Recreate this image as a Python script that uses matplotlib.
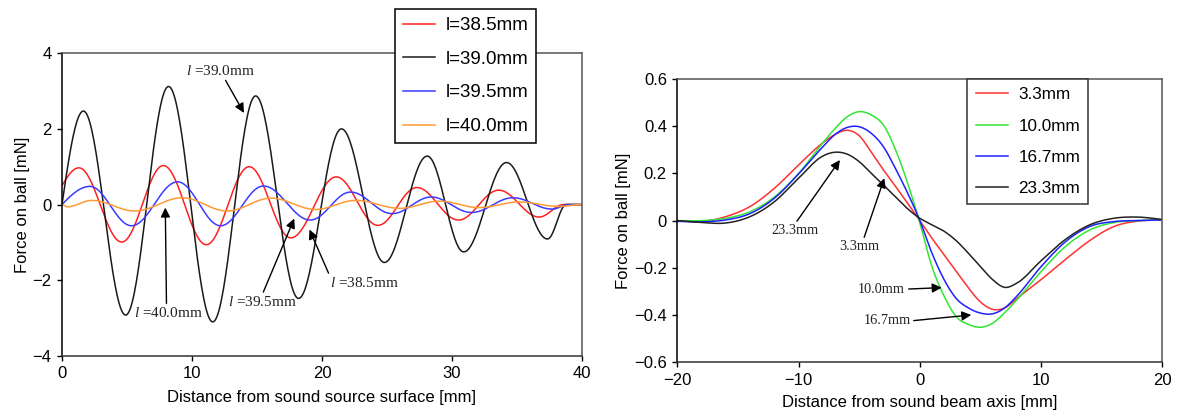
import numpy as np
import matplotlib
matplotlib.use("Agg")
import matplotlib.pyplot as plt

plt.rcParams['font.family'] = ['Liberation Sans', 'DejaVu Sans']
plt.rcParams['mathtext.fontset'] = 'custom'
plt.rcParams['mathtext.rm'] = 'Liberation Serif'
plt.rcParams['mathtext.it'] = 'Liberation Serif:italic'

# ---- left panel: peaks / troughs ----
lengths = ['l=38.5mm', 'l=39.0mm', 'l=39.5mm', 'l=40.0mm']

x_385 = [0, 1.3, 4.6, 7.8, 11.1, 14.4, 17.6, 21.1, 24.3, 27.3, 30.5, 33.6, 36.7, 38.6, 40]
y_385 = [0.5, 0.97, -0.99, 1.03, -1.06, 1.0, -0.88, 0.73, -0.55, 0.45, -0.41, 0.38, -0.33, 0, 0]

x_390 = [0, 1.65, 4.9, 8.2, 11.6, 14.9, 18.2, 21.5, 24.8, 28.1, 30.9, 34.2, 37.35, 38.8, 40]
y_390 = [0, 2.47, -2.92, 3.12, -3.1, 2.87, -2.48, 2.0, -1.53, 1.28, -1.25, 1.11, -0.91, 0, 0]

x_395 = [0, 2.15, 5.35, 8.9, 12.2, 15.5, 19.1, 22.2, 25.4, 28.4, 31.5, 34.7, 37.7, 39.0, 40]
y_395 = [0, 0.48, -0.56, 0.6, -0.56, 0.49, -0.41, 0.33, -0.24, 0.2, -0.21, 0.18, -0.12, 0, 0]

x_400 = [0, 0.4, 2.3, 5.6, 9.25, 12.7, 16.1, 19.5, 22.6, 26.0, 29.0, 32.1, 35.2, 38.2, 40]
y_400 = [0, -0.06, 0.11, -0.17, 0.18, -0.17, 0.17, -0.13, 0.11, -0.1, 0.09, -0.08, 0.07, -0.05, 0]

# ---- right panel: force across the beam ----
heights = ['3.3mm', '10.0mm', '16.7mm', '23.3mm']
xb = [-20, -18, -16, -14, -12, -10, -8, -7, -6, -5, -4, -3, -2, -1, 0,
      1, 2, 3, 4, 5, 6, 7, 8, 10, 12, 14, 16, 18, 20]
f_33 = [0, -0.004, 0.017, 0.06, 0.137, 0.236, 0.33, 0.365, 0.383, 0.36, 0.29, 0.215, 0.145, 0.073, 0,
        -0.075, -0.145, -0.215, -0.285, -0.345, -0.376, -0.37, -0.33, -0.25, -0.165, -0.085, -0.025, -0.002, 0.003]
f_100 = [0, 0, 0.01, 0.038, 0.1, 0.2, 0.33, 0.39, 0.44, 0.462, 0.448, 0.405, 0.3, 0.158, -0.01,
         -0.195, -0.32, -0.407, -0.44, -0.452, -0.435, -0.39, -0.336, -0.216, -0.11, -0.04, -0.008, 0, 0.003]
f_167 = [-0.003, -0.005, 0.003, 0.03, 0.095, 0.198, 0.313, 0.365, 0.395, 0.398, 0.37, 0.313, 0.22, 0.116, 0,
         -0.138, -0.25, -0.33, -0.37, -0.392, -0.395, -0.37, -0.32, -0.195, -0.09, -0.025, -0.004, 0, 0.003]
f_233 = [0, -0.008, -0.01, 0.017, 0.08, 0.18, 0.274, 0.29, 0.282, 0.25, 0.2, 0.151, 0.1, 0.05, 0.01,
         -0.018, -0.045, -0.085, -0.138, -0.195, -0.25, -0.283, -0.265, -0.17, -0.08, -0.018, 0.01, 0.015, 0.005]


def wave(xk, yk, quarter=False, n=40):
    # smooth half-wave between successive extrema
    xs, ys = [], []
    for i in range(len(xk) - 1):
        t = np.linspace(0, 1, n, endpoint=False)
        if i == 0 and quarter:
            s = np.sin(np.pi / 2 * t)
        else:
            s = (1 - np.cos(np.pi * t)) / 2
        xs.append(xk[i] + (xk[i + 1] - xk[i]) * t)
        ys.append(yk[i] + (yk[i + 1] - yk[i]) * s)
    xs.append([xk[-1]])
    ys.append([yk[-1]])
    return np.concatenate(xs), np.concatenate(ys)


def spline(xk, yk, n=12):
    # cubic hermite through the read points, just to draw them smooth
    xk = np.asarray(xk, float)
    yk = np.asarray(yk, float)
    m = np.gradient(yk, xk)
    xs, ys = [], []
    for i in range(len(xk) - 1):
        h = xk[i + 1] - xk[i]
        t = np.linspace(0, 1, n, endpoint=False)
        h00 = 2 * t**3 - 3 * t**2 + 1
        h10 = t**3 - 2 * t**2 + t
        h01 = -2 * t**3 + 3 * t**2
        h11 = t**3 - t**2
        xs.append(xk[i] + h * t)
        ys.append(h00 * yk[i] + h10 * h * m[i] + h01 * yk[i + 1] + h11 * h * m[i + 1])
    xs.append([xk[-1]])
    ys.append([yk[-1]])
    return np.concatenate(xs), np.concatenate(ys)


fig = plt.figure(figsize=(11.78, 4.12), dpi=100)
ax1 = fig.add_axes([0.0526, 0.136, 0.4414, 0.735])
ax2 = fig.add_axes([0.575, 0.121, 0.4117, 0.687])

lw = 1.1
x, y = wave(x_385, y_385, quarter=True)
ax1.plot(x, y, color='#ff2020', lw=lw, label=lengths[0])
x, y = wave(x_390, y_390, quarter=True)
ax1.plot(x, y, color='#1a1a1a', lw=lw, label=lengths[1])
x, y = wave(x_395, y_395, quarter=True)
ax1.plot(x, y, color='#3b3bff', lw=lw, label=lengths[2])
x, y = wave(x_400, y_400)
ax1.plot(x, y, color='#ff9a33', lw=lw, label=lengths[3])

x, y = spline(xb, f_33)
ax2.plot(x, y, color='#ff3030', lw=lw, label=heights[0])
x, y = spline(xb, f_100)
ax2.plot(x, y, color='#33e633', lw=lw, label=heights[1])
x, y = spline(xb, f_167)
ax2.plot(x, y, color='#2020ff', lw=lw, label=heights[2])
x, y = spline(xb, f_233)
ax2.plot(x, y, color='#222222', lw=lw, label=heights[3])

ax1.set_xlim(0, 40)
ax1.set_ylim(-4, 4)
ax1.set_xticks([0, 10, 20, 30, 40])
ax1.set_yticks([-4, -2, 0, 2, 4])
ax2.set_xlim(-20, 20)
ax2.set_ylim(-0.6, 0.6)
ax2.set_xticks([-20, -10, 0, 10, 20])
ax2.set_yticks([-0.6, -0.4, -0.2, 0, 0.2, 0.4, 0.6])
ax2.set_yticklabels(['\u22120.6', '\u22120.4', '\u22120.2', '0', '0.2', '0.4', '0.6'])

for ax in (ax1, ax2):
    ax.tick_params(direction='out', length=3.5, width=1, labelsize=12, pad=4)
    ax.spines['left'].set_color('black')
    ax.spines['bottom'].set_color('#333333')
    ax.spines['top'].set_color('#555555')
    ax.spines['right'].set_color('#555555')
    for s in ax.spines.values():
        s.set_linewidth(1.1)
    ax.set_ylabel('Force on ball [mN]', fontsize=12, labelpad=2)

ax1.set_xlabel('Distance from sound source surface [mm]', fontsize=12, labelpad=6)
ax2.set_xlabel('Distance from sound beam axis [mm]', fontsize=12, labelpad=5)

leg1 = ax1.legend(loc='upper left', bbox_to_anchor=(0.64, 1.145), fontsize=13.5,
                  frameon=True, fancybox=False, edgecolor='black', framealpha=1,
                  borderaxespad=0, handlelength=1.75, handletextpad=0.55,
                  labelspacing=0.88, borderpad=0.42)
leg1.get_frame().set_linewidth(1.1)
leg2 = ax2.legend(loc='upper left', bbox_to_anchor=(0.598, 1.0), fontsize=12.3,
                  frameon=True, fancybox=False, edgecolor='#333333', framealpha=1,
                  borderaxespad=0, handlelength=1.9, handletextpad=0.6,
                  labelspacing=0.95, borderpad=0.48)
leg2.get_frame().set_linewidth(1.1)

arrow = dict(arrowstyle='-|>', color='black', lw=1.0, mutation_scale=14, shrinkA=0, shrinkB=0)
serif = dict(family='Liberation Serif', fontsize=11, color='#222222')

ax1.annotate('$l$ =39.0mm', xy=(14.0, 2.42), xytext=(12.2, 3.54), ha='center', va='center',
             arrowprops=dict(arrow, relpos=(0.55, 0)), **serif)
ax1.annotate('$l$ =40.0mm', xy=(7.95, -0.08), xytext=(8.2, -2.87), ha='center', va='center',
             arrowprops=dict(arrow, relpos=(0.47, 1)), **serif)
ax1.annotate('$l$ =39.5mm', xy=(17.87, -0.37), xytext=(15.4, -2.57), ha='center', va='center',
             arrowprops=dict(arrow, relpos=(0.5, 1)), **serif)
ax1.annotate('$l$ =38.5mm', xy=(19.04, -0.66), xytext=(23.25, -2.07), ha='center', va='center',
             arrowprops=dict(arrow, relpos=(0.0, 1)), **serif)

serif2 = dict(family='Liberation Serif', fontsize=10.3, color='#222222')
ax2.annotate('23.3mm', xy=(-6.59, 0.257), xytext=(-10.3, -0.042), ha='center', va='center',
             arrowprops=dict(arrow, relpos=(0.5, 1)), **serif2)
ax2.annotate('3.3mm', xy=(-2.93, 0.18), xytext=(-5.0, -0.11), ha='center', va='center',
             arrowprops=dict(arrow, relpos=(0.6, 1)), **serif2)
ax2.annotate('10.0mm', xy=(1.8, -0.284), xytext=(-3.17, -0.29), ha='center', va='center',
             arrowprops=dict(arrow, relpos=(1.08, 0.5)), **serif2)
ax2.annotate('16.7mm', xy=(4.24, -0.40), xytext=(-2.68, -0.424), ha='center', va='center',
             arrowprops=dict(arrow, relpos=(1.05, 0.5)), **serif2)

fig.savefig('out.png', dpi=100)
